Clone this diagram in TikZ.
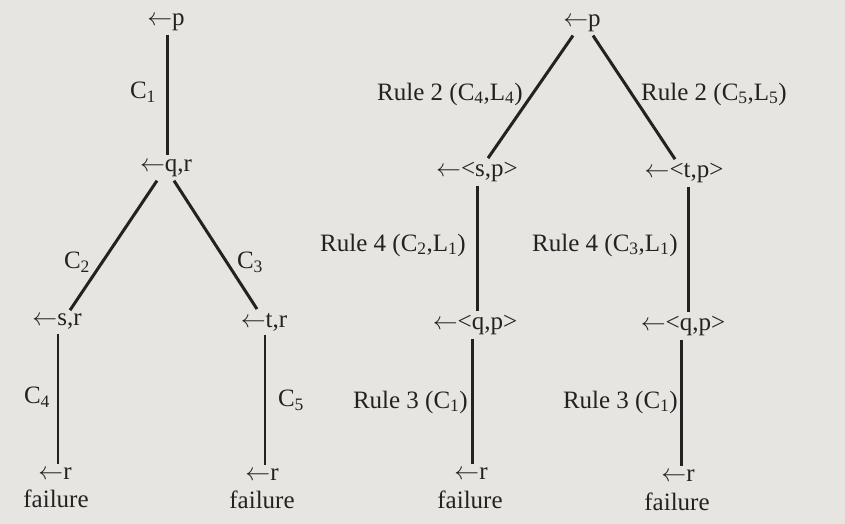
\documentclass[tikz,border=0pt]{standalone}
\usepackage{fontspec}
\setmainfont{Liberation Serif}
\usetikzlibrary{positioning}
\definecolor{paper}{RGB}{231,229,226}
\definecolor{ink}{RGB}{36,34,32}
\newcommand{\goalarr}{\ensuremath{\leftarrow}}

\begin{document}
\begin{tikzpicture}[
  x=1pt, y=-1pt,
  font=\fontsize{25}{30}\selectfont, text=ink,
  goal/.style = {inner sep=1pt, outer sep=3pt},
  lbl/.style  = {inner sep=0pt},
  link/.style = {draw=ink, line width=3pt},
  thin/.style = {draw=ink, line width=2pt}
]
\fill[paper] (0,0) rectangle (845,524);
\useasboundingbox (0,0) rectangle (845,524);

% left tree
\node[goal] (pa)  at (166,22)  {\goalarr p};
\node[goal] (qr)  at (166,168) {\goalarr q,r};
\node[goal] (sr)  at (57,322)  {\goalarr s,r};
\node[goal] (tr)  at (264,322) {\goalarr t,r};
\node[goal] (ra)  at (55,474)  {\goalarr r};
\node[goal] (rb)  at (262,475) {\goalarr r};
\node[lbl]  (fa)  at (56,499)  {failure};
\node[lbl]  (fb)  at (262,500) {failure};

\node[lbl] (c1) at (143,92)  {C\textsubscript{1}};
\node[lbl] (c2) at (77,262)  {C\textsubscript{2}};
\node[lbl] (c3) at (250,262) {C\textsubscript{3}};
\node[lbl] (c4) at (37,397)  {C\textsubscript{4}};
\node[lbl] (c5) at (291,400) {C\textsubscript{5}};

\draw[link] ([xshift=1pt]pa.south) -- ([xshift=1pt]qr.north);
\draw[link] ([xshift=-9pt]qr.south) -- ([xshift=13pt]sr.north);
\draw[link] ([xshift=8pt]qr.south)  -- ([xshift=-7pt]tr.north);
\draw[thin] ([xshift=1pt]sr.south)  -- ([xshift=3pt]ra.north);
\draw[thin] ([xshift=1pt]tr.south)  -- ([xshift=3pt]rb.north);

% right tree
\node[goal] (pb)  at (582,23)  {\goalarr p};
\node[goal] (sp)  at (477,172) {\goalarr<s,p>};
\node[goal] (tp)  at (684,173) {\goalarr<t,p>};
\node[goal] (qpa) at (475,325) {\goalarr<q,p>};
\node[goal] (qpb) at (683,326) {\goalarr<q,p>};
\node[goal] (rc)  at (471,474) {\goalarr r};
\node[goal] (rd)  at (678,476) {\goalarr r};
\node[lbl]  (fc)  at (470,500) {failure};
\node[lbl]  (fd)  at (677,502) {failure};

\node[lbl, anchor=east] (r2a) at (523,94)  {Rule 2 (C\textsubscript{4},L\textsubscript{4})};
\node[lbl, anchor=west] (r2b) at (641,94)  {Rule 2 (C\textsubscript{5},L\textsubscript{5})};
\node[lbl, anchor=east] (r4a) at (466,245) {Rule 4 (C\textsubscript{2},L\textsubscript{1})};
\node[lbl, anchor=east] (r4b) at (678,245) {Rule 4 (C\textsubscript{3},L\textsubscript{1})};
\node[lbl, anchor=east] (r3a) at (468,402) {Rule 3 (C\textsubscript{1})};
\node[lbl, anchor=east] (r3b) at (678,402) {Rule 3 (C\textsubscript{1})};

\draw[link] ([xshift=-9pt]pb.south)  -- ([xshift=11pt]sp.north);
\draw[link] ([xshift=11pt]pb.south)  -- ([xshift=-9pt]tp.north);
\draw[link] (sp.south) -- ([xshift=2pt]qpa.north);
\draw[link] ([xshift=4pt]tp.south)  -- ([xshift=5pt]qpb.north);
\draw[link] ([xshift=-3pt]qpa.south) -- ([xshift=1pt]rc.north);
\draw[link] ([xshift=-2pt]qpb.south) -- ([xshift=3pt]rd.north);

\end{tikzpicture}
\end{document}
